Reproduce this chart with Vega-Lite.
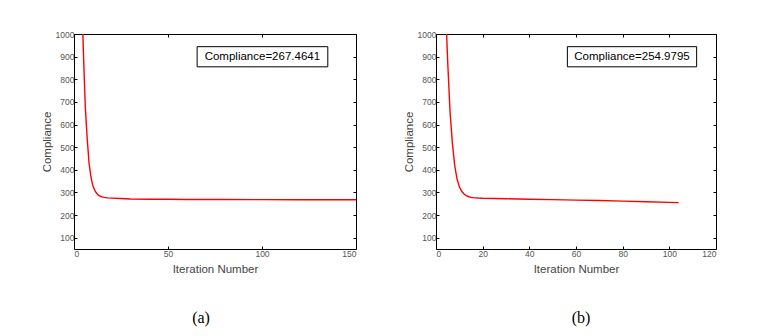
{
  "$schema": "https://vega.github.io/schema/vega-lite/v6.json",
  "padding": {"left": 41, "top": 30, "right": 5, "bottom": 5},
  "background": "white",
  "datasets": {
    "a": [
      {"it": 1, "c": 3000}, {"it": 2, "c": 2200}, {"it": 3, "c": 1600}, {"it": 4, "c": 1200},
      {"it": 5, "c": 920}, {"it": 6, "c": 680}, {"it": 7, "c": 540}, {"it": 8, "c": 430},
      {"it": 9, "c": 370}, {"it": 10, "c": 330}, {"it": 11, "c": 310}, {"it": 12, "c": 296},
      {"it": 13, "c": 288}, {"it": 14, "c": 283}, {"it": 15, "c": 280}, {"it": 16, "c": 278},
      {"it": 18, "c": 276}, {"it": 20, "c": 275}, {"it": 25, "c": 273}, {"it": 30, "c": 271},
      {"it": 40, "c": 270}, {"it": 50, "c": 269.5}, {"it": 60, "c": 269}, {"it": 80, "c": 268.5},
      {"it": 100, "c": 268}, {"it": 120, "c": 267.7}, {"it": 150, "c": 267.46}
    ],
    "b": [
      {"it": 1, "c": 3000}, {"it": 2, "c": 2200}, {"it": 3, "c": 1600}, {"it": 4, "c": 1150},
      {"it": 5, "c": 880}, {"it": 6, "c": 660}, {"it": 7, "c": 520}, {"it": 8, "c": 420},
      {"it": 9, "c": 360}, {"it": 10, "c": 325}, {"it": 11, "c": 305}, {"it": 12, "c": 293},
      {"it": 13, "c": 286}, {"it": 14, "c": 281}, {"it": 15, "c": 278}, {"it": 16, "c": 277},
      {"it": 18, "c": 275.5}, {"it": 20, "c": 274.5}, {"it": 30, "c": 272}, {"it": 40, "c": 269.5},
      {"it": 50, "c": 268}, {"it": 60, "c": 266}, {"it": 70, "c": 264}, {"it": 80, "c": 261.5},
      {"it": 90, "c": 258.5}, {"it": 100, "c": 256}, {"it": 104, "c": 254.98}
    ]
  },
  "config": {
    "view": {"stroke": null},
    "font": "Liberation Sans",
    "axis": {
      "grid": false,
      "domainColor": "black",
      "tickColor": "black",
      "tickSize": -3,
      "format": "d",
      "labelFont": "Liberation Sans",
      "labelFontSize": 8.5,
      "labelColor": "#555555",
      "titleFont": "Liberation Sans",
      "titleFontSize": 11.5,
      "titleFontWeight": "normal",
      "titleColor": "#444444",
      "labelPadding": 3
    },
    "title": {
      "font": "Liberation Serif",
      "fontSize": 16,
      "fontWeight": "normal",
      "color": "black",
      "orient": "bottom"
    }
  },
  "spacing": 80,
  "bounds": "flush",
  "hconcat": [
    {
      "width": 282,
      "height": 215,
      "title": {"text": "(a)", "orient": "bottom", "offset": 35, "dx": -14},
      "resolve": {"axis": {"x": "independent", "y": "independent"}},
      "layer": [
        {
          "data": {"name": "a"},
          "mark": {"type": "line", "color": "red", "strokeWidth": 1.4, "clip": true},
          "encoding": {
            "x": {"field": "it", "type": "quantitative", "scale": {"domain": [0, 150], "nice": false},
                  "axis": {"orient": "bottom", "title": "Iteration Number", "values": [0, 50, 100, 150], "titlePadding": 6}},
            "y": {"field": "c", "type": "quantitative", "scale": {"domain": [50, 1000], "nice": false},
                  "axis": {"orient": "left", "title": "Compliance", "values": [100, 200, 300, 400, 500, 600, 700, 800, 900, 1000], "titlePadding": 3}}
          }
        },
        {
          "data": {"values": [{}]},
          "mark": {"type": "rect", "fill": "white", "stroke": "black", "strokeWidth": 1},
          "encoding": {
            "x": {"datum": 65.5, "type": "quantitative", "axis": {"orient": "top", "labels": false, "title": null, "values": [0, 50, 100, 150]}},
            "x2": {"datum": 135},
            "y": {"datum": 944, "type": "quantitative", "axis": {"orient": "right", "labels": false, "title": null, "values": [100, 200, 300, 400, 500, 600, 700, 800, 900, 1000]}},
            "y2": {"datum": 855}
          }
        },
        {
          "data": {"values": [{"label": "Compliance=267.4641"}]},
          "mark": {"type": "text", "fontSize": 11.5, "color": "black", "align": "center", "baseline": "middle", "font": "Liberation Sans"},
          "encoding": {
            "x": {"datum": 100.2, "type": "quantitative", "axis": null},
            "y": {"datum": 899.5, "type": "quantitative", "axis": null},
            "text": {"field": "label"}
          }
        }
      ]
    },
    {
      "width": 280,
      "height": 215,
      "title": {"text": "(b)", "orient": "bottom", "offset": 35, "dx": 5},
      "resolve": {"axis": {"x": "independent", "y": "independent"}},
      "layer": [
        {
          "data": {"name": "b"},
          "mark": {"type": "line", "color": "red", "strokeWidth": 1.4, "clip": true},
          "encoding": {
            "x": {"field": "it", "type": "quantitative", "scale": {"domain": [0, 120], "nice": false},
                  "axis": {"orient": "bottom", "title": "Iteration Number", "values": [0, 20, 40, 60, 80, 100, 120], "titlePadding": 6}},
            "y": {"field": "c", "type": "quantitative", "scale": {"domain": [50, 1000], "nice": false},
                  "axis": {"orient": "left", "title": "Compliance", "values": [100, 200, 300, 400, 500, 600, 700, 800, 900, 1000], "titlePadding": 3}}
          }
        },
        {
          "data": {"values": [{}]},
          "mark": {"type": "rect", "fill": "white", "stroke": "black", "strokeWidth": 1},
          "encoding": {
            "x": {"datum": 56.3, "type": "quantitative", "axis": {"orient": "top", "labels": false, "title": null, "values": [0, 20, 40, 60, 80, 100, 120]}},
            "x2": {"datum": 111.7},
            "y": {"datum": 944, "type": "quantitative", "axis": {"orient": "right", "labels": false, "title": null, "values": [100, 200, 300, 400, 500, 600, 700, 800, 900, 1000]}},
            "y2": {"datum": 855}
          }
        },
        {
          "data": {"values": [{"label": "Compliance=254.9795"}]},
          "mark": {"type": "text", "fontSize": 11.5, "color": "black", "align": "center", "baseline": "middle", "font": "Liberation Sans"},
          "encoding": {
            "x": {"datum": 84, "type": "quantitative", "axis": null},
            "y": {"datum": 899.5, "type": "quantitative", "axis": null},
            "text": {"field": "label"}
          }
        }
      ]
    }
  ]
}
